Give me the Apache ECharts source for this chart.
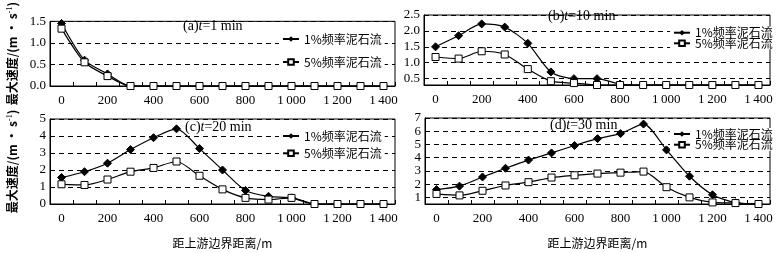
<!DOCTYPE html>
<html><head><meta charset="utf-8">
<script src="https://cdn.jsdelivr.net/npm/echarts@6/dist/echarts.min.js"></script>
<style>html,body{margin:0;padding:0;background:#fff}#c{width:784px;height:253px}</style>
</head><body><div id="c"></div>
<script>
const categories = ['0','100','200','300','400','500','600','700','800','900','1000','1100','1200','1300','1400'];
const seriesNames = ['1%频率泥石流', '5%频率泥石流'];
// panel (a) t=1 min
const a1 = [1.45,0.6,0.28,0,0,0,0,0,0,0,0,0,0,0,0];
const a5 = [1.33,0.55,0.23,0,0,0,0,0,0,0,0,0,0,0,0];
// panel (b) t=10 min
const b1 = [1.5,1.85,2.22,2.12,1.61,0.71,0.5,0.5,0.33,0.3,0.3,0.3,0.3,0.3,0.3];
const b5 = [1.18,1.13,1.36,1.26,0.8,0.42,0.36,0.3,0.3,0.3,0.3,0.3,0.3,0.3,0.3];
// panel (c) t=20 min
const c1 = [1.56,1.9,2.4,3.2,3.9,4.42,3.26,2.0,0.8,0.45,0.36,0,0,0,0];
const c5 = [1.16,1.12,1.44,1.9,2.12,2.5,1.66,0.86,0.36,0.26,0.36,0,0,0,0];
// panel (d) t=30 min
const d1 = [1.59,1.85,2.54,3.2,3.82,4.36,4.92,5.44,5.82,6.54,4.59,2.6,1.2,0.6,0.5];
const d5 = [1.26,1.15,1.5,1.9,2.15,2.5,2.67,2.8,2.87,2.95,1.77,1.0,0.62,0.57,0.5];
// y tick labels
const yTicksA = [0, 0.5, 1.0, 1.5];
const yTicksB = [0.5, 1.0, 1.5, 2.0, 2.5];
const yTicksC = [0, 1, 2, 3, 4, 5];
const yTicksD = [1, 2, 3, 4, 5, 6, 7];
const titles = [['(a)', 't', '=1 min'], ['(b)', 't', '=10 min'], ['(c)', 't', '=20 min'], ['(d)', 't', '=30 min']];
const yName = '{c|最大速度/(m · s}{s|-1}{c|)}';
const xName = '距上游边界距离/m';

const SERIF = 'Liberation Serif';
const CJK = 'Noto Sans CJK SC';

const grids = [
  {left: 50, top: 15, width: 345, height: 71},
  {left: 424, top: 15, width: 346, height: 70},
  {left: 50, top: 119, width: 345, height: 85},
  {left: 425, top: 118, width: 345, height: 86}
];
const yCfg = [
  {min: 0, max: 1.5, ticks: yTicksA, dec: 1, name: true},
  {min: 0.3, max: 2.5, ticks: yTicksB, dec: 1, name: false},
  {min: 0, max: 5, ticks: yTicksC, dec: 0, name: true},
  {min: 0.5, max: 7, ticks: yTicksD, dec: 0, name: false}
];
const data1 = [a1, b1, c1, d1];
const data5 = [a5, b5, c5, d5];

const numRich = {n: {fontFamily: SERIF, fontSize: 13, color: '#000'}};
function fmtX(v) { return '{n|' + (v.length > 3 ? v[0] + '\u2009' + v.slice(1) : v) + '}'; }

const option = {
  animation: false,
  backgroundColor: '#fff',
  textStyle: {fontFamily: SERIF, color: '#000'},
  grid: grids.map(g => Object.assign({show: true, borderColor: '#000', borderWidth: 1, backgroundColor: 'transparent'}, g)),
  xAxis: grids.map((g, i) => ({
    type: 'category', gridIndex: i, data: categories, boundaryGap: true,
    axisLine: {show: true, lineStyle: {color: '#000', width: 1}},
    axisTick: {show: true, inside: true, length: 4, interval: 0, lineStyle: {color: '#000'}},
    axisLabel: {interval: 1, color: '#000', fontFamily: SERIF, fontSize: 13, margin: 8, formatter: fmtX, rich: numRich},
    splitLine: {show: false},
    name: i >= 2 ? xName : '', nameLocation: 'middle', nameGap: 33,
    nameTextStyle: {color: '#000', fontFamily: CJK, fontSize: 12}
  })),
  yAxis: yCfg.map((c, i) => ({
    type: 'value', gridIndex: i, min: c.min, max: c.max,
    axisLine: {show: true, lineStyle: {color: '#000', width: 1}},
    axisTick: {show: false, customValues: c.ticks},
    axisLabel: {customValues: c.ticks, color: '#000', fontFamily: SERIF, fontSize: 13, margin: 4,
      formatter: v => '{n|' + Number(v).toFixed(c.dec) + '}', rich: numRich},
    splitLine: {show: true, lineStyle: {color: '#000', type: [5, 4], width: 1}},
    name: c.name ? yName : '', nameLocation: 'middle', nameRotate: 90, nameGap: 31,
    nameTextStyle: {color: '#000', rich: {
      c: {fontFamily: CJK, fontSize: 12, fontWeight: 'bold', color: '#000'},
      s: {fontFamily: SERIF, fontSize: 8, color: '#000', verticalAlign: 'top', padding: [0, 0, 5, 0]}
    }}
  })),
  title: titles.map((t, i) => ({
    text: '{p|' + t[0] + '}{i|' + t[1] + '}{p|' + t[2] + '}',
    left: [183, 548, 185, 550][i], top: [19, 9, 120, 118][i], padding: 0,
    textStyle: {fontWeight: 'normal', rich: {
      p: {fontFamily: SERIF, fontSize: 14, color: '#000', fontWeight: 'normal'},
      i: {fontFamily: SERIF, fontSize: 14, color: '#000', fontStyle: 'italic', fontWeight: 'normal'}
    }}
  })),
  legend: [],
  series: []
};

const legendPos = [
  {left: 279, c: [39, 62]},
  {left: 670, c: [32.7, 43.3]},
  {left: 279, c: [136, 153.3]},
  {left: 670, c: [134, 144.7]}
];
legendPos.forEach(p => {
  seriesNames.forEach((n, k) => {
    option.legend.push({
      orient: 'vertical', left: p.left, top: p.c[k] - 6, padding: [0, 3],
      backgroundColor: '#fff', data: [n], itemWidth: 16, itemHeight: 7,
      selectedMode: false,
      textStyle: {color: '#000', fontFamily: CJK, fontSize: 12, lineHeight: 12}
    });
  });
});

for (let i = 0; i < 4; i++) {
  option.series.push({
    name: seriesNames[0], type: 'line', xAxisIndex: i, yAxisIndex: i, data: data1[i],
    smooth: 0.25, symbol: 'diamond', symbolSize: 8, clip: false,
    lineStyle: {color: '#000', width: 1.2}, itemStyle: {color: '#000', borderColor: '#000'}
  });
  option.series.push({
    name: seriesNames[1], type: 'line', xAxisIndex: i, yAxisIndex: i, data: data5[i],
    smooth: 0.25, symbol: 'rect', symbolSize: 7, clip: false,
    lineStyle: {color: '#000', width: 1.2}, itemStyle: {color: '#fff', borderColor: '#000', borderWidth: 1}
  });
}

const chart = echarts.init(document.getElementById('c'), null, {renderer: 'canvas'});
chart.setOption(option);
</script></body></html>
